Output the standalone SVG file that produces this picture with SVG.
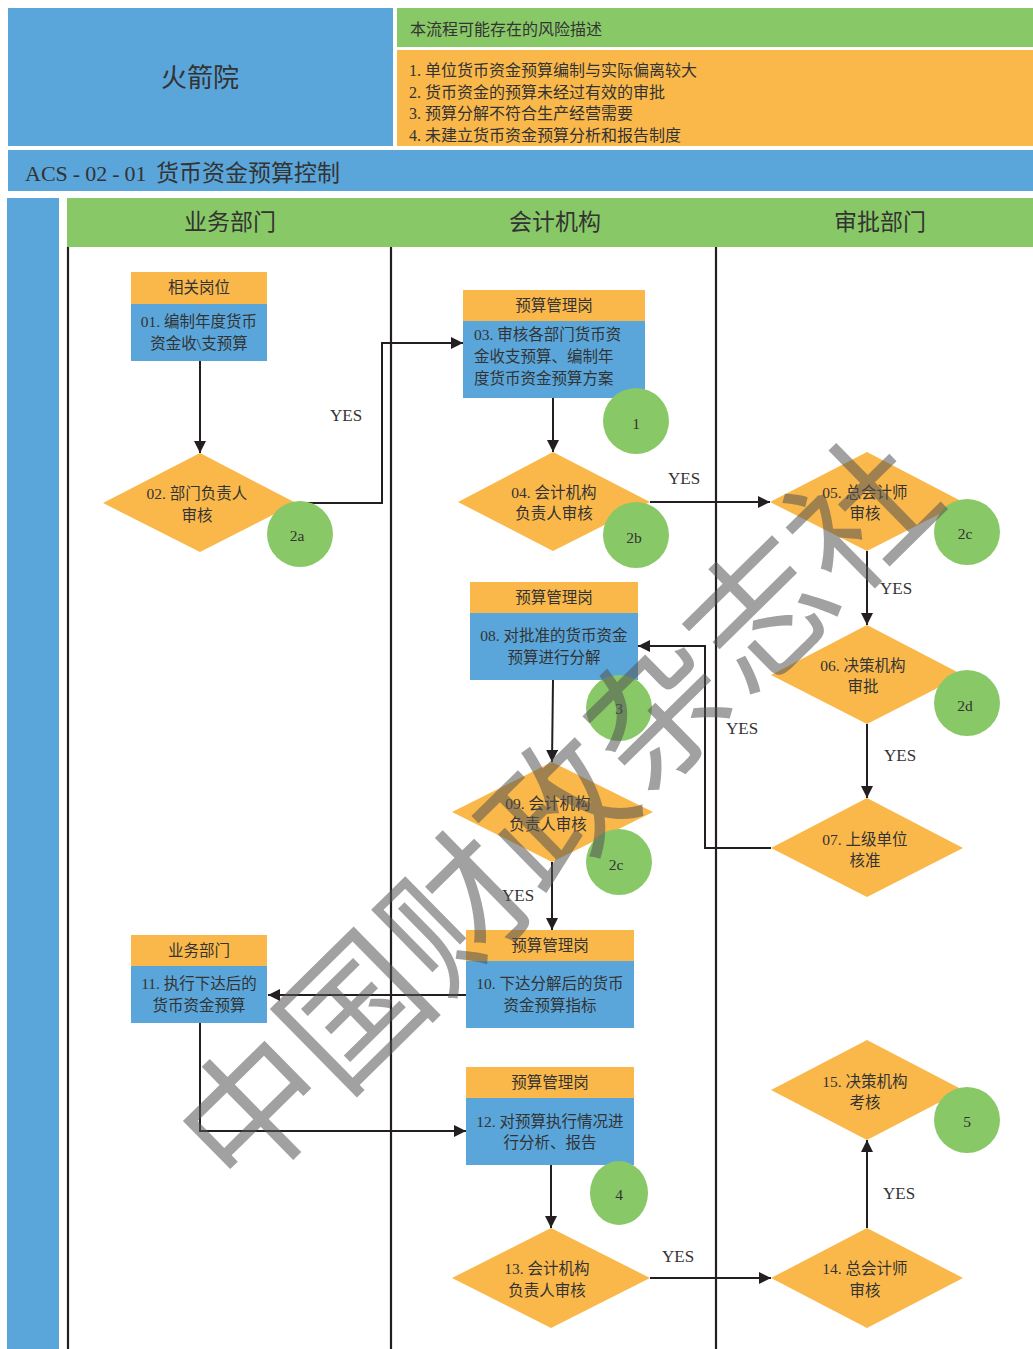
<svg xmlns="http://www.w3.org/2000/svg" width="1033" height="1349" viewBox="0 0 1033 1349">
<defs>
<style>
.t{font-family:"Liberation Serif","Noto Sans CJK SC",serif;fill:#333;}
.s15{font-size:15.5px;}
.c{text-anchor:middle;}
.blue{fill:#5AA6DA;}
.green{fill:#88C867;}
.orange{fill:#FAB84A;}
.lane{stroke:#231F20;stroke-width:2.2;fill:none;}
.con{stroke:#231F20;stroke-width:2;fill:none;}
.yes{font-family:"Liberation Serif",serif;font-size:17px;fill:#333;}
.wm{font-family:"Noto Sans CJK SC",sans-serif;font-size:142px;font-weight:400;fill:#555;opacity:0.55;}
</style>
<marker id="ah" viewBox="0 0 12 12" refX="12" refY="6" markerWidth="12" markerHeight="12" orient="auto" markerUnits="userSpaceOnUse"><path d="M0,0 L12,6 L0,12 z" fill="#231F20"/></marker>
</defs>
<rect width="1033" height="1349" fill="#fff"/>

<g id="header">
<rect class="blue" x="8" y="8" width="385" height="138"/>
<text class="t c" x="200" y="87" font-size="26">火箭院</text>
<rect class="green" x="397" y="8" width="636" height="39"/>
<text class="t" x="410" y="35" font-size="16">本流程可能存在的风险描述</text>
<rect class="orange" x="397" y="50" width="636" height="96"/>
<text class="t" x="409" y="76" font-size="16">1. 单位货币资金预算编制与实际偏离较大</text>
<text class="t" x="409" y="98" font-size="16">2. 货币资金的预算未经过有效的审批</text>
<text class="t" x="409" y="119" font-size="16">3. 预算分解不符合生产经营需要</text>
<text class="t" x="409" y="141" font-size="16">4. 未建立货币资金预算分析和报告制度</text>
<rect class="blue" x="8" y="150" width="1025" height="41"/>
<text class="t" x="25" y="181" font-size="22">ACS<tspan dx="5">-</tspan><tspan dx="5">02</tspan><tspan dx="5">-</tspan><tspan dx="5">01</tspan><tspan x="156" font-size="23">货币资金预算控制</tspan></text>
</g>

<g id="lanes">
<rect class="blue" x="7" y="198" width="52" height="1151"/>
<rect class="green" x="67" y="198" width="966" height="49"/>
<text class="t c" x="230" y="230" font-size="23">业务部门</text>
<text class="t c" x="555" y="230" font-size="23">会计机构</text>
<text class="t c" x="880" y="230" font-size="23">审批部门</text>
<line class="lane" x1="68" y1="247" x2="68" y2="1349"/>
<line class="lane" x1="391" y1="247" x2="391" y2="1349"/>
<line class="lane" x1="716" y1="247" x2="716" y2="1349"/>
</g>

<g id="connectors">
<line class="con" x1="200" y1="361" x2="200" y2="453" marker-end="url(#ah)"/>
<polyline class="con" points="296,503 382,503 382,343 463,343" marker-end="url(#ah)"/>
<line class="con" x1="553" y1="398" x2="553" y2="452" marker-end="url(#ah)"/>
<line class="con" x1="650" y1="502" x2="770" y2="502" marker-end="url(#ah)"/>
<line class="con" x1="867" y1="551" x2="867" y2="625" marker-end="url(#ah)"/>
<line class="con" x1="867" y1="724" x2="867" y2="798" marker-end="url(#ah)"/>
<polyline class="con" points="771,848 705,848 705,646 638,646" marker-end="url(#ah)"/>
<line class="con" x1="553" y1="680" x2="552" y2="762" marker-end="url(#ah)"/>
<line class="con" x1="552" y1="862" x2="552" y2="930" marker-end="url(#ah)"/>
<line class="con" x1="466" y1="995" x2="268" y2="995" marker-end="url(#ah)"/>
<polyline class="con" points="200,1023 200,1131 466,1131" marker-end="url(#ah)"/>
<line class="con" x1="551" y1="1165" x2="551" y2="1228" marker-end="url(#ah)"/>
<line class="con" x1="650" y1="1278" x2="771" y2="1278" marker-end="url(#ah)"/>
<line class="con" x1="867" y1="1228" x2="867" y2="1140" marker-end="url(#ah)"/>
<text class="yes" x="330" y="421">YES</text>
<text class="yes" x="668" y="484">YES</text>
<text class="yes" x="880" y="594">YES</text>
<text class="yes" x="884" y="761">YES</text>
<text class="yes" x="726" y="734">YES</text>
<text class="yes" x="502" y="901">YES</text>
<text class="yes" x="662" y="1262">YES</text>
<text class="yes" x="883" y="1199">YES</text>
</g>

<g id="n01">
<rect class="orange" x="131" y="272" width="136" height="32"/>
<rect class="blue" x="131" y="304" width="136" height="57"/>
<text class="t s15 c" x="199" y="293">相关岗位</text>
<text class="t s15 c" x="199" y="327">01. 编制年度货币</text>
<text class="t s15 c" x="199" y="349">资金收\支预算</text>
</g>
<g id="n02">
<polygon class="orange" points="200,453 296,503 200,552 103,503"/>
<text class="t s15 c" x="197" y="499">02. 部门负责人</text>
<text class="t s15 c" x="197" y="521">审核</text>
<circle class="green" cx="300" cy="534" r="33"/>
<text class="t s15 c" x="297" y="541">2a</text>
</g>
<g id="n03">
<rect class="orange" x="463" y="290" width="182" height="31"/>
<rect class="blue" x="463" y="321" width="182" height="77"/>
<text class="t s15 c" x="554" y="311">预算管理岗</text>
<text class="t s15" x="474" y="340">03. 审核各部门货币资</text>
<text class="t s15" x="474" y="362">金收支预算、编制年</text>
<text class="t s15" x="474" y="384">度货币资金预算方案</text>
<circle class="green" cx="636" cy="421" r="33"/>
<text class="t s15 c" x="636" y="429">1</text>
</g>
<g id="n04">
<polygon class="orange" points="553,452 650,502 553,551 458,502"/>
<text class="t s15 c" x="554" y="498">04. 会计机构</text>
<text class="t s15 c" x="554" y="519">负责人审核</text>
<circle class="green" cx="636" cy="535" r="33"/>
<text class="t s15 c" x="634" y="543">2b</text>
</g>
<g id="n05">
<polygon class="orange" points="867,452 963,502 867,551 770,502"/>
<text class="t s15 c" x="865" y="498">05. 总会计师</text>
<text class="t s15 c" x="865" y="519">审核</text>
<circle class="green" cx="967" cy="532" r="33"/>
<text class="t s15 c" x="965" y="539">2c</text>
</g>
<g id="n06">
<polygon class="orange" points="867,625 963,675 867,724 771,675"/>
<text class="t s15 c" x="863" y="671">06. 决策机构</text>
<text class="t s15 c" x="863" y="692">审批</text>
<circle class="green" cx="967" cy="703" r="33"/>
<text class="t s15 c" x="965" y="711">2d</text>
</g>
<g id="n07">
<polygon class="orange" points="867,798 963,848 867,897 771,848"/>
<text class="t s15 c" x="865" y="845">07. 上级单位</text>
<text class="t s15 c" x="865" y="866">核准</text>
</g>
<g id="n08">
<rect class="orange" x="470" y="582" width="168" height="31"/>
<rect class="blue" x="470" y="613" width="168" height="67"/>
<text class="t s15 c" x="554" y="603">预算管理岗</text>
<text class="t s15 c" x="554" y="641">08. 对批准的货币资金</text>
<text class="t s15 c" x="554" y="663">预算进行分解</text>
<circle class="green" cx="619" cy="708" r="33"/>
<text class="t s15 c" x="619" y="714">3</text>
</g>
<g id="n09">
<polygon class="orange" points="552,762 653,812 552,862 452,812"/>
<text class="t s15 c" x="548" y="809">09. 会计机构</text>
<text class="t s15 c" x="548" y="830">负责人审核</text>
<circle class="green" cx="619" cy="862" r="33"/>
<text class="t s15 c" x="616" y="870">2c</text>
</g>
<g id="n10">
<rect class="orange" x="466" y="930" width="168" height="31"/>
<rect class="blue" x="466" y="961" width="168" height="67"/>
<text class="t s15 c" x="550" y="951">预算管理岗</text>
<text class="t s15 c" x="550" y="989">10. 下达分解后的货币</text>
<text class="t s15 c" x="550" y="1011">资金预算指标</text>
</g>
<g id="n11">
<rect class="orange" x="131" y="935" width="136" height="31"/>
<rect class="blue" x="131" y="966" width="136" height="57"/>
<text class="t s15 c" x="199" y="956">业务部门</text>
<text class="t s15 c" x="199" y="989">11. 执行下达后的</text>
<text class="t s15 c" x="199" y="1011">货币资金预算</text>
</g>
<g id="n12">
<rect class="orange" x="466" y="1067" width="168" height="31"/>
<rect class="blue" x="466" y="1098" width="168" height="67"/>
<text class="t s15 c" x="550" y="1088">预算管理岗</text>
<text class="t s15 c" x="550" y="1127">12. 对预算执行情况进</text>
<text class="t s15 c" x="550" y="1148">行分析、报告</text>
<ellipse class="green" cx="619" cy="1193" rx="29" ry="32"/>
<text class="t s15 c" x="619" y="1200">4</text>
</g>
<g id="n13">
<polygon class="orange" points="551,1228 650,1278 551,1328 452,1278"/>
<text class="t s15 c" x="547" y="1274">13. 会计机构</text>
<text class="t s15 c" x="547" y="1296">负责人审核</text>
</g>
<g id="n14">
<polygon class="orange" points="867,1228 963,1278 867,1328 771,1278"/>
<text class="t s15 c" x="865" y="1274">14. 总会计师</text>
<text class="t s15 c" x="865" y="1296">审核</text>
</g>
<g id="n15">
<polygon class="orange" points="867,1040 963,1090 867,1140 771,1090"/>
<text class="t s15 c" x="865" y="1087">15. 决策机构</text>
<text class="t s15 c" x="865" y="1108">考核</text>
<circle class="green" cx="967" cy="1120" r="33"/>
<text class="t s15 c" x="967" y="1127">5</text>
</g>

<g id="watermark">
<text class="wm" x="550" y="805" text-anchor="middle" dominant-baseline="central" transform="rotate(-44.5 550 805)">中国财政杂志社</text>
</g>
</svg>
